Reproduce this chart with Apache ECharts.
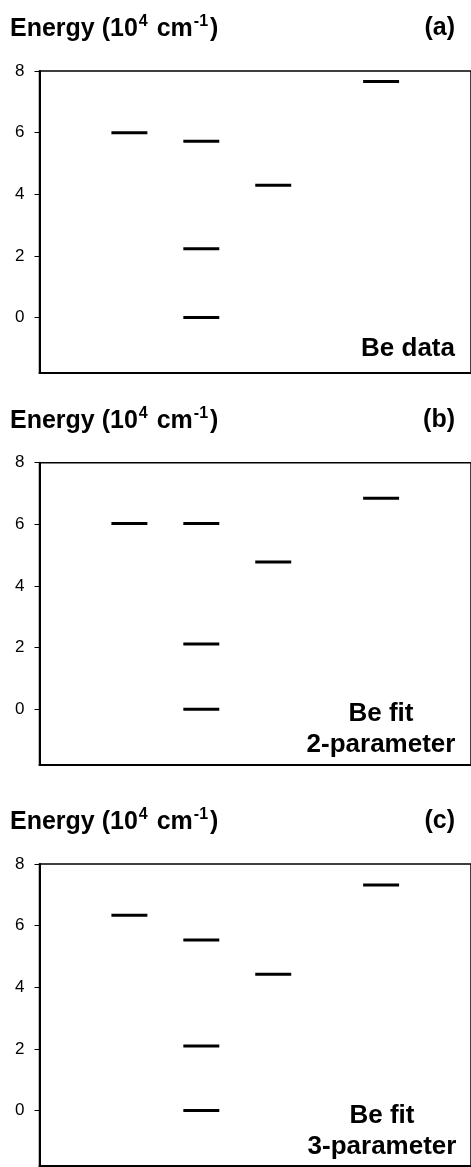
<!DOCTYPE html>
<html>
<head>
<meta charset="utf-8">
<script src="https://cdn.jsdelivr.net/npm/echarts@6/dist/echarts.min.js"></script>
<style>
  html, body { margin: 0; padding: 0; background: #fff; }
  #levels { width: 471px; height: 1167px; }
</style>
</head>
<body>
<div id="levels"></div>
<script>
// energy levels in 10^4 cm^-1, one inner list per column
var columnStart = [1, 2, 3, 4.5];
var beData = [[6.0], [5.72, 2.23, 0], [4.29], [7.66]];
var beFit2 = [[6.03], [6.03, 2.12, 0], [4.78], [6.85]];
var beFit3 = [[6.34], [5.53, 2.09, 0], [4.42], [7.32]];
var yTicks = [0, 2, 4, 6, 8];
var panelTags = ['(a)', '(b)', '(c)'];
var panelNotes = ['Be data', 'Be fit\n2-parameter', 'Be fit\n3-parameter'];

var panels = [beData, beFit2, beFit3];
var gridTops = [71, 462.7, 864];
var noteX = [408, 381, 382];
var levelWidth = 0.5;

var dom = document.getElementById('levels');
var myChart = echarts.init(dom, null, { renderer: 'canvas' });

function toPoints(cols) {
  var pts = [];
  cols.forEach(function (vals, c) {
    vals.forEach(function (v) { pts.push([columnStart[c], v]); });
  });
  return pts;
}

var grids = [], xAxes = [], yAxes = [], series = [], graphics = [];

panels.forEach(function (cols, i) {
  var top = gridTops[i];
  grids.push({
    left: 39.5, right: -3.5, top: top, height: 302,
    show: true, borderColor: '#000', borderWidth: 1.5
  });
  xAxes.push({
    type: 'value', gridIndex: i, min: 0, max: 6,
    axisLine: { show: true, onZero: false, lineStyle: { color: '#000', width: 2 } },
    axisTick: { show: false }, axisLabel: { show: false },
    splitLine: { show: false }
  });
  yAxes.push({
    type: 'value', gridIndex: i, min: -1.8, max: 8,
    axisLine: { show: true, onZero: false, lineStyle: { color: '#000', width: 2 } },
    axisTick: { show: true, length: 5, customValues: yTicks, lineStyle: { color: '#000', width: 1 } },
    axisLabel: {
      customValues: yTicks, margin: 15, color: '#000',
      fontSize: 17, fontFamily: 'Liberation Sans'
    },
    splitLine: { show: false }
  });
  series.push({
    type: 'custom', xAxisIndex: i, yAxisIndex: i,
    data: toPoints(cols),
    encode: { x: 0, y: 1 },
    renderItem: function (params, api) {
      var x = api.value(0), y = api.value(1);
      var p0 = api.coord([x, y]);
      var p1 = api.coord([x + levelWidth, y]);
      return {
        type: 'line',
        shape: { x1: p0[0], y1: p0[1], x2: p1[0], y2: p1[1] },
        style: { stroke: '#000', lineWidth: 3 }
      };
    }
  });
  graphics.push({
    type: 'text', x: 10, y: top - 57,
    style: {
      text: '{m|Energy (10}{sup|4}{m| cm}{sup|-1}{m|)}',
      fill: '#000', fontFamily: 'Liberation Sans', fontWeight: 'bold', fontSize: 25,
      textAlign: 'left', textVerticalAlign: 'top',
      rich: {
        m: {
          fontFamily: 'Liberation Sans', fontWeight: 'bold', fontSize: 25,
          lineHeight: 30, fill: '#000'
        },
        sup: {
          fontFamily: 'Liberation Sans', fontWeight: 'bold', fontSize: 16,
          lineHeight: 18, verticalAlign: 'top', fill: '#000', padding: [0, 2, 0, 1]
        }
      }
    }
  });
  graphics.push({
    type: 'text', x: 455, y: top - 55,
    style: {
      text: panelTags[i], fill: '#000',
      fontFamily: 'Liberation Sans', fontWeight: 'bold', fontSize: 25,
      textAlign: 'right', textVerticalAlign: 'top'
    }
  });
  graphics.push({
    type: 'text', x: noteX[i], y: top + (i === 0 ? 262 : 236),
    style: {
      text: panelNotes[i], fill: '#000',
      fontFamily: 'Liberation Sans', fontWeight: 'bold', fontSize: 26, lineHeight: 31,
      textAlign: 'center', textVerticalAlign: 'top'
    }
  });
});

var option = {
  animation: false,
  grid: grids,
  xAxis: xAxes,
  yAxis: yAxes,
  series: series,
  graphic: graphics
};

myChart.setOption(option);
window.addEventListener('resize', myChart.resize);
</script>
</body>
</html>
